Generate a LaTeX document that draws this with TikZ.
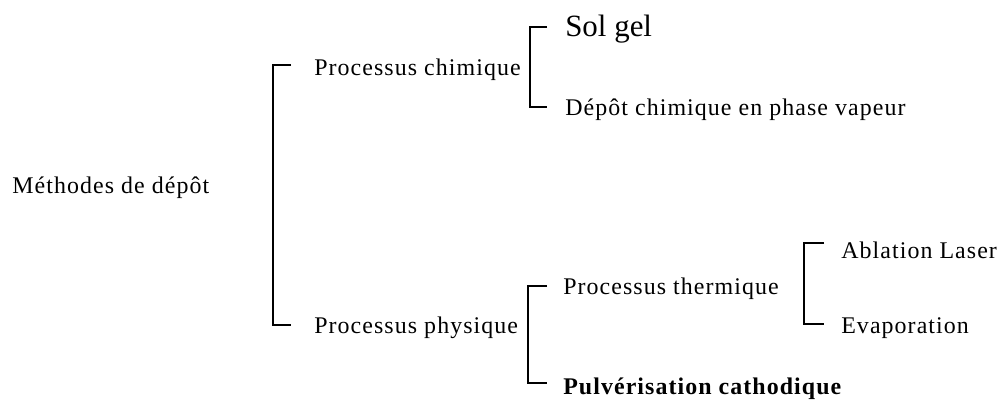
\documentclass[tikz,border=0pt]{standalone}
\usepackage{fontspec}
\setmainfont{Liberation Serif}
\newfontfamily\spacedserif[LetterSpace=4.5]{Liberation Serif}
\begin{document}
\begin{tikzpicture}[x=0.025cm,y=-0.025cm,
  lbl/.style={anchor=west,inner sep=0pt,font=\spacedserif\fontsize{17}{20}\selectfont},
  big/.style={anchor=west,inner sep=0pt,font=\fontsize{22}{26}\selectfont},
  brk/.style={draw=black,line width=0.9pt}]
\fill[white] (0,0) rectangle (1000,400);
\useasboundingbox (0,0) rectangle (1000,400);
\node[lbl] (root) at (12,188) {Méthodes de dépôt};
\node[lbl] (pc) at (314,70) {Processus chimique};
\node[lbl] (pp) at (314,328) {Processus physique};
\node[big] (sg) at (565,29) {Sol gel};
\node[lbl] (cvd) at (565,110) {Dépôt chimique en phase vapeur};
\node[lbl] (pt) at (563,289) {Processus thermique};
\node[lbl,font=\spacedserif\fontsize{17}{20}\selectfont\bfseries] (pcat) at (563,389) {Pulvérisation cathodique};
\node[lbl] (al) at (841,250) {Ablation Laser};
\node[lbl] (ev) at (841,328) {Evaporation};
% bracket coordinates
\coordinate (b1t) at (291,65);
\coordinate (b1b) at (291,325);
\coordinate (b2t) at (547,27);
\coordinate (b2b) at (547,107);
\coordinate (b3t) at (547,286);
\coordinate (b3b) at (547,383);
\coordinate (b4t) at (824,243);
\coordinate (b4b) at (824,324);
\draw[brk] (b1t) -- ++(-18,0) coordinate (b1v) |- (b1b);
\draw[brk] (b2t) -- ++(-17,0) coordinate (b2v) |- (b2b);
\draw[brk] (b3t) -- ++(-19,0) coordinate (b3v) |- (b3b);
\draw[brk] (b4t) -- ++(-20,0) coordinate (b4v) |- (b4b);
\end{tikzpicture}
\end{document}
